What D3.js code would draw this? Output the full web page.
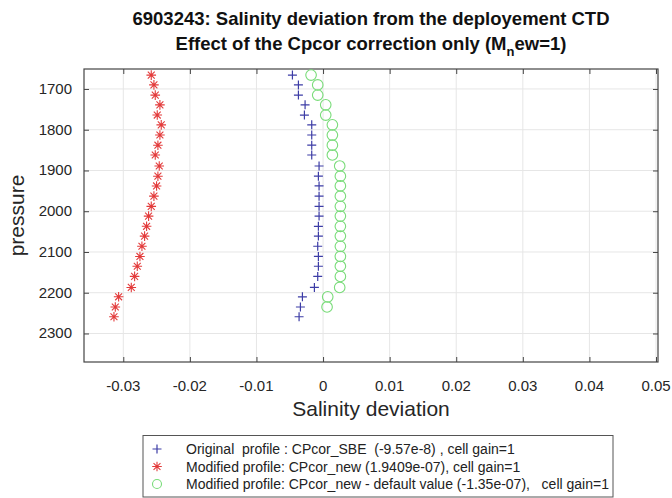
<!DOCTYPE html>
<html>
<head>
<meta charset="utf-8">
<script src="https://cdn.jsdelivr.net/npm/d3@7"></script>
<style>
  body { margin: 0; background: #fff; }
  svg { font-family: "Liberation Sans", Arial, sans-serif; }
  .tick-label { font-size: 15px; fill: #262626; }
  .axis-title { font-size: 21px; fill: #262626; }
  .title { font-size: 18.5px; font-weight: bold; fill: #111; }
  .legend-text { font-size: 14px; fill: #222; }
</style>
</head>
<body>
<div id="chart"></div>
<script>
/****************************************/
/*****  Data   *****/
/****************************************/
const pressures = [1666, 1690, 1715, 1739, 1764, 1788, 1813, 1838, 1862, 1889, 1914, 1938, 1963,
  1988, 2012, 2037, 2061, 2086, 2111, 2135, 2160, 2187, 2210, 2235, 2259];

// Original profile : CPcor_SBE
const originalDev = [-0.0046, -0.0037, -0.0037, -0.0027, -0.0028, -0.0017, -0.0017, -0.0017, -0.0017,
  -0.0006, -0.0007, -0.0006, -0.0006, -0.0006, -0.0006, -0.0007, -0.0007, -0.0008, -0.0007, -0.0007,
  -0.0008, -0.0013, -0.0031, -0.0034, -0.0036];

// Modified profile: CPcor_new
const modifiedDev = [-0.0258, -0.0254, -0.0252, -0.0245, -0.0249, -0.0243, -0.0245, -0.0248, -0.0252,
  -0.0246, -0.0248, -0.0250, -0.0254, -0.0258, -0.0262, -0.0265, -0.0268, -0.0272, -0.0275, -0.0279,
  -0.0283, -0.0288, -0.0307, -0.0312, -0.0314];

// Modified profile: CPcor_new - default value (one level less)
const defaultDev = [-0.0018, -0.0008, -0.0008, 0.0004, 0.0004, 0.0014, 0.0014, 0.0014, 0.0014,
  0.0025, 0.0026, 0.0026, 0.0026, 0.0026, 0.0026, 0.0026, 0.0026, 0.0026, 0.0026, 0.0026,
  0.0026, 0.0025, 0.0007, 0.0006];

const xTicks = [-0.03, -0.02, -0.01, 0, 0.01, 0.02, 0.03, 0.04, 0.05];
const yTicks = [1700, 1800, 1900, 2000, 2100, 2200, 2300];

const legendLabels = [
  'Original  profile : CPcor_SBE  (-9.57e-8) , cell gain=1',
  'Modified profile: CPcor_new (1.9409e-07), cell gain=1',
  'Modified profile: CPcor_new - default value (-1.35e-07),   cell gain=1'
];

/****************************************/
/*****  Setup   *****/
/****************************************/
const width = 672;
const height = 498;
const plotLeft = 84, plotRight = 658, plotTop = 69, plotBottom = 362;

const svg = d3.select('#chart')
  .append('svg')
    .attr('width', width)
    .attr('height', height);

const x = d3.scaleLinear()
  .domain([-0.0359, 0.0503])
  .range([plotLeft, plotRight]);

const y = d3.scaleLinear()
  .domain([1651, 2370])
  .range([plotTop, plotBottom]);

const blue = '#3d3da6';
const red = '#e33b3b';
const green = '#79dc79';

// marker shapes, drawn around (0,0)
const plusPath = s => `M${-s},0H${s}M0,${-s}V${s}`;
const starPath = s => {
  const d = s * 0.72;
  return `M${-s},0H${s}M0,${-s}V${s}M${-d},${-d}L${d},${d}M${-d},${d}L${d},${-d}`;
};

/****************************************/
/*****  Grid and axes   *****/
/****************************************/
const grid = svg.append('g').attr('class', 'grid');
grid.selectAll('.vgrid')
  .data(xTicks)
  .join('line')
    .attr('x1', d => x(d)).attr('x2', d => x(d))
    .attr('y1', plotTop).attr('y2', plotBottom)
    .attr('stroke', '#e6e6e6');
grid.selectAll('.hgrid')
  .data(yTicks)
  .join('line')
    .attr('class', 'hgrid')
    .attr('x1', plotLeft).attr('x2', plotRight)
    .attr('y1', d => y(d)).attr('y2', d => y(d))
    .attr('stroke', '#e6e6e6');

// MATLAB style axes: ticks inside, on all four sides
const tickLen = 5;
const axisG = svg.append('g').attr('class', 'axes');
axisG.append('g')
    .attr('transform', `translate(0,${plotBottom})`)
    .call(d3.axisBottom(x).tickValues(xTicks).tickSizeInner(-tickLen).tickSizeOuter(0).tickFormat(''));
axisG.append('g')
    .attr('transform', `translate(0,${plotTop})`)
    .call(d3.axisTop(x).tickValues(xTicks).tickSizeInner(-tickLen).tickSizeOuter(0).tickFormat(''));
axisG.append('g')
    .attr('transform', `translate(${plotLeft},0)`)
    .call(d3.axisLeft(y).tickValues(yTicks).tickSizeInner(-tickLen).tickSizeOuter(0).tickFormat(''));
axisG.append('g')
    .attr('transform', `translate(${plotRight},0)`)
    .call(d3.axisRight(y).tickValues(yTicks).tickSizeInner(-tickLen).tickSizeOuter(0).tickFormat(''));
axisG.selectAll('.domain').remove();
axisG.selectAll('.tick line').attr('stroke', '#444');

axisG.append('rect')
    .attr('x', plotLeft).attr('y', plotTop)
    .attr('width', plotRight - plotLeft).attr('height', plotBottom - plotTop)
    .attr('fill', 'none')
    .attr('stroke', '#444')
    .attr('stroke-width', 1.2);

// tick labels (plain hyphen minus, as MATLAB prints them)
svg.selectAll('.xlabel')
  .data(xTicks)
  .join('text')
    .attr('class', 'tick-label xlabel')
    .attr('x', d => x(d))
    .attr('y', plotBottom + 29)
    .attr('text-anchor', 'middle')
    .text(d => String(d));
svg.selectAll('.ylabel')
  .data(yTicks)
  .join('text')
    .attr('class', 'tick-label ylabel')
    .attr('x', plotLeft - 12)
    .attr('y', d => y(d) + 5)
    .attr('text-anchor', 'end')
    .text(d => d);

// axis titles
svg.append('text')
    .attr('class', 'axis-title')
    .attr('x', (plotLeft + plotRight) / 2)
    .attr('y', 416)
    .attr('text-anchor', 'middle')
    .text('Salinity deviation');
svg.append('text')
    .attr('class', 'axis-title')
    .attr('transform', `translate(24,${(plotTop + plotBottom) / 2}) rotate(-90)`)
    .attr('text-anchor', 'middle')
    .text('pressure');

// title
svg.append('text')
    .attr('class', 'title')
    .attr('x', 371)
    .attr('y', 25)
    .attr('text-anchor', 'middle')
    .text('6903243: Salinity deviation from the deployement CTD');
const t2 = svg.append('text')
    .attr('class', 'title')
    .attr('x', 371)
    .attr('y', 50)
    .attr('text-anchor', 'middle');
t2.append('tspan').text('Effect of the Cpcor correction only (M');
t2.append('tspan').attr('dy', 6).attr('font-size', 13).text('n');
t2.append('tspan').attr('dy', -6).text('ew=1)');

/****************************************/
/*****  Markers   *****/
/****************************************/
const plot = svg.append('g').attr('class', 'markers');

plot.selectAll('.orig')
  .data(originalDev)
  .join('path')
    .attr('class', 'orig')
    .attr('transform', (d, i) => `translate(${x(d)},${y(pressures[i])})`)
    .attr('d', plusPath(4.5))
    .attr('stroke', blue)
    .attr('stroke-width', 1.2)
    .attr('fill', 'none');

plot.selectAll('.mod')
  .data(modifiedDev)
  .join('path')
    .attr('class', 'mod')
    .attr('transform', (d, i) => `translate(${x(d)},${y(pressures[i])})`)
    .attr('d', starPath(4.8))
    .attr('stroke', red)
    .attr('stroke-width', 1.1)
    .attr('fill', 'none');

plot.selectAll('.def')
  .data(defaultDev)
  .join('circle')
    .attr('class', 'def')
    .attr('cx', d => x(d))
    .attr('cy', (d, i) => y(pressures[i]))
    .attr('r', 5.3)
    .attr('stroke', green)
    .attr('stroke-width', 1.1)
    .attr('fill', 'none');

/****************************************/
/*****  Legend   *****/
/****************************************/
const legend = svg.append('g').attr('class', 'legend');
legend.append('rect')
    .attr('x', 143).attr('y', 435.5)
    .attr('width', 470).attr('height', 61.5)
    .attr('fill', '#fff')
    .attr('stroke', '#555')
    .attr('stroke-width', 1);

const rowY = [449, 466.5, 484];
legend.append('path')
    .attr('transform', `translate(157,${rowY[0]})`)
    .attr('d', plusPath(4.5))
    .attr('stroke', blue).attr('stroke-width', 1.2);
legend.append('path')
    .attr('transform', `translate(157,${rowY[1]})`)
    .attr('d', starPath(4.8))
    .attr('stroke', red).attr('stroke-width', 1.1);
legend.append('circle')
    .attr('cx', 157).attr('cy', rowY[2]).attr('r', 4.5)
    .attr('fill', 'none')
    .attr('stroke', green).attr('stroke-width', 1.1);

legend.selectAll('.legend-text')
  .data(legendLabels)
  .join('text')
    .attr('class', 'legend-text')
    .attr('x', 186)
    .attr('y', (d, i) => rowY[i] + 5)
    .attr('xml:space', 'preserve')
    .style('white-space', 'pre')
    .text(d => d);
</script>
</body>
</html>
